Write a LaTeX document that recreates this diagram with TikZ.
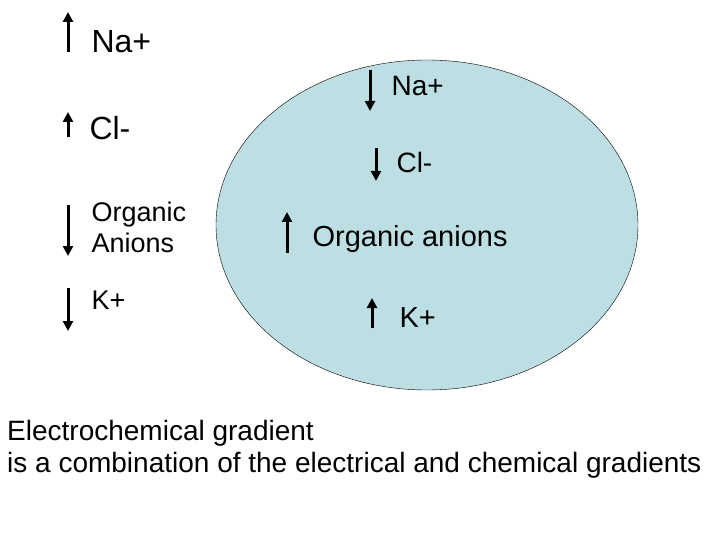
\documentclass[tikz,border=0pt]{standalone}
\usepackage{fontspec}
\setmainfont{Liberation Sans}
\usetikzlibrary{arrows.meta,shapes.geometric}
\tikzset{ion/.style={-{Triangle[length=10pt,width=10pt]},line width=3pt,shorten >=0pt},
         big/.style={anchor=west,font=\fontsize{32}{34}\selectfont},
         mid/.style={anchor=west,font=\fontsize{27}{31}\selectfont,align=left},
         cell/.style={draw=black,fill=cellblue}}
\definecolor{cellblue}{HTML}{BDDFE3}
\begin{document}
\begin{tikzpicture}[x=1pt,y=-1pt]
  \useasboundingbox (0,0) rectangle (720,540);
  \node[cell,ellipse,minimum width=422pt,minimum height=330pt,inner sep=0pt] (cell) at (427,225) {};
  % outside
  \coordinate (na0) at (68,52);  \coordinate (na1) at (68,12);
  \coordinate (cl0) at (68,137); \coordinate (cl1) at (68,112);
  \coordinate (or0) at (68,205); \coordinate (or1) at (68,256);
  \coordinate (k0)  at (68,288); \coordinate (k1)  at (68,331);
  \draw[ion] (na0) -- (na1);
  \draw[ion] (cl0) -- (cl1);
  \draw[ion] (or0) -- (or1);
  \draw[ion] (k0) -- (k1);
  \node[big] (naout) at (88,42) {Na+};
  \node[big] (clout) at (86,128) {Cl-};
  \node[mid] (orout) at (88,227) {Organic\\Anions};
  \node[mid] (kout)  at (88,300) {K+};
  % inside
  \coordinate (na2) at (370,70);  \coordinate (na3) at (370,111);
  \coordinate (cl2) at (376,148); \coordinate (cl3) at (376,181);
  \coordinate (or2) at (287,253); \coordinate (or3) at (287,212);
  \coordinate (k2)  at (372,328); \coordinate (k3)  at (372,298);
  \draw[ion] (na2) -- (na3);
  \draw[ion] (cl2) -- (cl3);
  \draw[ion] (or2) -- (or3);
  \draw[ion] (k2) -- (k3);
  \node[mid,font=\fontsize{28}{30}\selectfont] (nain) at (388,86) {Na+};
  \node[mid,font=\fontsize{28}{30}\selectfont] (clin) at (393,162) {Cl-};
  \node[mid,font=\fontsize{29}{30}\selectfont] (orin) at (309,239) {Organic anions};
  \node[mid,font=\fontsize{29}{30}\selectfont] (kin)  at (396,318) {K+};
  % caption
  \node[anchor=north west,font=\fontsize{28}{32}\selectfont,align=left,inner sep=0pt] (cap) at (7,420)
    {Electrochemical gradient\\is a combination of the electrical and chemical gradients};
\end{tikzpicture}
\end{document}
